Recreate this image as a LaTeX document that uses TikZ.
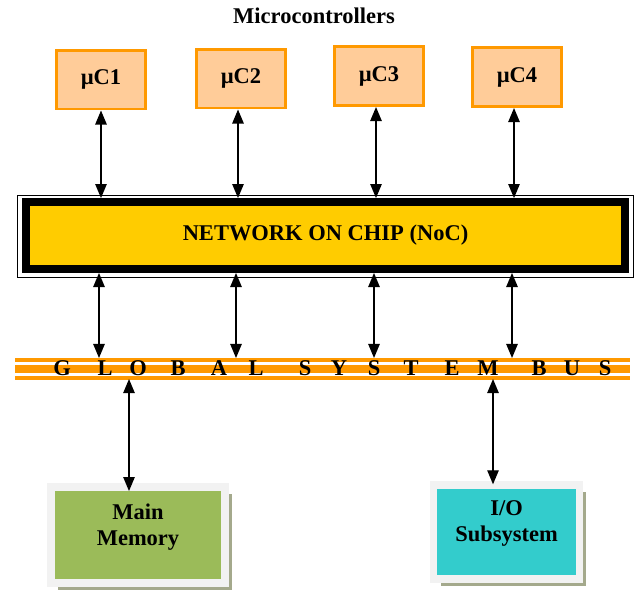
\documentclass[tikz,border=0pt]{standalone}
\usepackage{fontspec}
\setmainfont{Liberation Serif}
\usetikzlibrary{positioning, calc, arrows.meta, shadows}

\definecolor{ucfill}{HTML}{FFCC99}
\definecolor{ucline}{HTML}{FF9900}
\definecolor{nocfill}{HTML}{FFCC00}
\definecolor{busline}{HTML}{FF9900}
\definecolor{memfill}{HTML}{9BBB59}
\definecolor{iofill}{HTML}{33CCCC}
\definecolor{frame}{HTML}{F2F2F2}
\definecolor{shade}{HTML}{A4A98C}

\begin{document}
\begin{tikzpicture}[x=0.02cm, y=-0.02cm,
    lbl/.style={font=\bfseries\fontsize{12.8}{14.8}\selectfont},
    ucbox/.style={rectangle, draw=ucline, fill=ucfill, line width=1.7pt,
        minimum width=1.78cm, minimum height=1.18cm, lbl},
    unit/.style={rectangle, draw=frame, line width=4.5pt, align=center, lbl,
        text depth=0.42cm,
        drop shadow={shadow xshift=0.14cm, shadow yshift=-0.14cm, fill=shade, opacity=1}},
    link/.style={{Triangle[length=8pt,width=6.5pt]}-{Triangle[length=8pt,width=6.5pt]},
        line width=0.8pt}]
    \useasboundingbox (0,0) rectangle (641,589);

    \node[lbl] (title) at (314,16) {Microcontrollers};

    % microcontrollers
    \node[ucbox] (uc1) at (101,79.5) {µC1};
    \node[ucbox] (uc2) at (241,78.5) {µC2};
    \node[ucbox] (uc3) at (379,76) {µC3};
    \node[ucbox] (uc4) at (517,77) {µC4};

    % network on chip
    \node[draw=black, fill=nocfill, line width=4.5pt, minimum width=11.99cm,
        minimum height=1.34cm, lbl] (noc) at (325.5,235.5) {NETWORK ON CHIP (NoC)};
    \draw[line width=0.6pt] ([xshift=-0.08cm,yshift=0.06cm]noc.north west)
        rectangle ([xshift=0.08cm,yshift=-0.09cm]noc.south east);

    % global system bus
    \node[minimum width=12.3cm, minimum height=0.42cm, inner sep=0pt, outer sep=0pt] (bus) at (322.5,368.5) {};
    \fill[busline] (15,358) rectangle (630,361.5);
    \fill[busline] (15,365) rectangle (630,373);
    \fill[busline] (15,376) rectangle (630,379.5);
    \foreach \ch/\px in {G/62,L/105,O/138,B/178,A/219,L/256,S/305,Y/339,S/374,T/411,E/452,M/488,B/539,U/572,S/605}
        \node[lbl, anchor=base, inner sep=0pt] (l\px) at (\px,375) {\ch};

    % memory and i/o
    \node[unit, fill=memfill, minimum width=3.48cm, minimum height=1.92cm] (mem) at (138,535) {Main\\Memory};
    \node[unit, fill=iofill, minimum width=2.92cm, minimum height=1.87cm] (io) at (506.5,532) {I/O\\Subsystem};

    % connections
    \foreach \i/\dx/\ex in {1/0/-2,2/-3/-5,3/-3/-5,4/-3/-5} {
        \coordinate (t\i) at ([xshift=\dx*0.02cm]uc\i.south);
        \coordinate (b\i) at ([xshift=\ex*0.02cm]uc\i.south);
        \draw[link] (t\i) -- (t\i |- noc.north);
        \draw[link] (b\i |- noc.south) -- (b\i |- bus.north);
    }
    \coordinate (m1) at ([xshift=-0.18cm,yshift=-0.16cm]mem.north);
    \coordinate (m2) at ([xshift=-0.27cm,yshift=-0.06cm]io.north);
    \draw[link] (m1 |- bus.south) -- (m1);
    \draw[link] (m2 |- bus.south) -- (m2);
\end{tikzpicture}
\end{document}
